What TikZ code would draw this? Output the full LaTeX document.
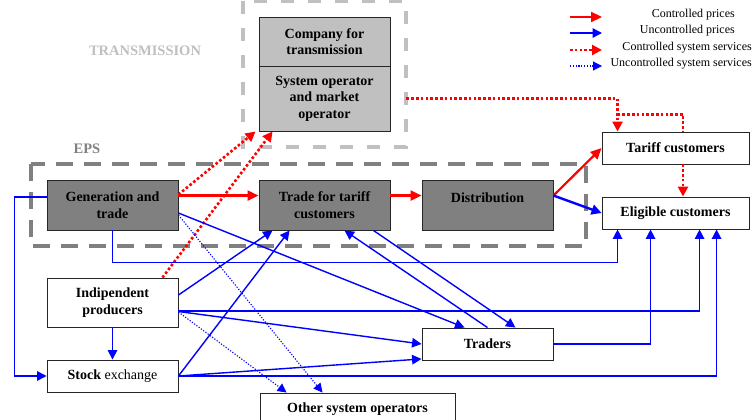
\documentclass[tikz,border=0pt]{standalone}
\usepackage{fontspec}
\setmainfont{Liberation Serif}
\usetikzlibrary{calc,arrows.meta}
\definecolor{lgray}{HTML}{C0C0C0}
\definecolor{dgray}{HTML}{808080}
\definecolor{rred}{HTML}{FF0000}
\definecolor{bblue}{HTML}{0000FF}
\begin{document}
\begin{tikzpicture}[x=1pt,y=-1pt,
  box/.style={draw=black!85, line width=0.9pt, fill=white, align=center, inner sep=0pt,
    minimum width=131pt, font=\fontsize{14}{16.5}\selectfont\bfseries},
  darkbox/.style={box, fill=dgray},
  lightbox/.style={box, fill=lgray},
  frameT/.style={draw=lgray, line width=3.5pt, dash pattern=on 13pt off 14pt},
  frameE/.style={draw=dgray, line width=3.5pt, dash pattern=on 17pt off 11pt},
  redarr/.style={draw=rred, line width=2.2pt, -{Triangle[length=11pt,width=10pt]}},
  bluearr/.style={draw=bblue, line width=1.4pt, -{Triangle[length=9.5pt,width=9.5pt]}},
  bluethick/.style={draw=bblue, line width=2.4pt, -{Triangle[length=10pt,width=10pt]}},
  reddot/.style={draw=rred, line width=2.6pt, dash pattern=on 2.6pt off 2.2pt, -{Triangle[length=10pt,width=10pt]}},
  reddotplain/.style={draw=rred, line width=2.6pt, dash pattern=on 2.6pt off 2.2pt},
  bluedot/.style={draw=bblue, line width=1.1pt, dash pattern=on 1.2pt off 1.6pt, -{Triangle[length=9pt,width=9pt]}},
  legtext/.style={font=\fontsize{12}{14}\selectfont, inner sep=0pt},
  grouplabel/.style={font=\fontsize{14.5}{16}\selectfont\bfseries, inner sep=0pt}
]
\clip (0,0) rectangle (752,420);
\fill[white] (0,0) rectangle (752,420);

% group frames
\draw[frameT] (243,1) rectangle (406,147);
\draw[frameE] (31,164) rectangle (586,246);
\node[grouplabel, text=lgray] (lblT) at (145,51) {TRANSMISSION};
\node[grouplabel, text=dgray] (lblE) at (87,149) {EPS};

% nodes
\node[lightbox, minimum height=49pt] (company) at (324.5,41.5) {Company for\\transmission};
\node[lightbox, minimum height=65pt] (so) at (324.5,98.5) {System operator\\and market\\operator};
\node[darkbox, minimum height=50pt] (gen) at (112.5,205) {Generation and\\trade};
\node[darkbox, minimum height=50pt] (tft) at (324.5,205) {Trade for tariff\\customers};
\node[darkbox, text height=22pt, text depth=28pt] (dist) at (487.5,205) {Distribution};
\node[box, minimum width=147pt, minimum height=32pt] (tariff) at (675.5,148) {Tariff customers};
\node[box, minimum width=147pt, minimum height=32pt] (elig) at (675.5,213) {Eligible customers};
\node[box, minimum height=49pt] (indep) at (112.5,302.5) {Indipendent\\producers};
\node[box, minimum height=32pt] (stock) at (112.5,376) {Stock \textmd{exchange}};
\node[box, minimum height=32pt] (traders) at (487.5,344) {Traders};
\node[box, minimum width=195pt, minimum height=32pt] (other) at (357.5,409) {Other system operators};

% controlled prices
\draw[redarr] ($(gen.north east)+(0,16)$) -- ($(tft.north west)+(0,16)$);
\draw[redarr] ($(tft.north east)+(0,16)$) -- ($(dist.north west)+(0,16)$);
\draw[redarr] ($(dist.north east)+(0,16)$) -- (tariff.west);
\draw[bluethick] ($(dist.north east)+(0,16)$) -- (elig.west);

% controlled system services
\draw[reddot] ($(so.east)+(16,0)$) -| ($(tariff.north west)+(16,0)$);
\draw[reddotplain] ($(tariff.north west)+(16,-17)$) -| ($(tariff.north)+(7.5,0)$);
\draw[reddot] ($(tariff.south)+(7.5,0)$) -- ($(elig.north)+(7.5,0)$);
\draw[reddot] ($(gen.north east)+(0,15)$) -- ($(so.south west)+(-3,0)$);
\draw[reddot] ($(indep.north east)+(-16,0)$) -- ($(so.south west)+(14,0)$);

% uncontrolled prices
\draw[bluearr] ($(gen.east)+(0,8)$) -- ($(traders.north west)+(43,0)$);
\draw[bluearr] ($(tft.south east)+(-17,0)$) -- ($(traders.north east)+(-38,0)$);
\draw[bluearr] (traders.north) -- ($(tft.south)+(20,0)$);
\draw[bluearr] ($(indep.east)+(0,8.5)$) -| ($(elig.south west)+(98,0)$);
\draw[bluearr] ($(indep.east)+(0,9)$) -- (traders.west);
\draw[bluearr] (stock.east) -- ($(traders.south west)+(0,-1.5)$);
\draw[bluearr] (stock.east) -| ($(elig.south west)+(115,0)$);
\draw[bluearr] (traders.east) -| ($(elig.south west)+(49,0)$);
\draw[bluearr] (gen.south) -- ++(0,32) -| ($(elig.south west)+(16,0)$);
\draw[bluearr] ($(gen.west)+(0,-8)$) -- ++(-32,0) |- (stock.west);
\draw[bluearr] (indep.south) -- (stock.north);
\draw[bluearr] ($(indep.east)+(0,-7.5)$) -- ($(tft.south west)+(14,0)$);
\draw[bluearr] (stock.east) -- ($(tft.south west)+(31,0)$);

% uncontrolled system services
\draw[bluedot] ($(gen.east)+(0,10)$) -- ($(other.north west)+(63,0)$);
\draw[bluedot] ($(indep.east)+(0,9.5)$) -- ($(other.north west)+(27,0)$);

% legend
\coordinate (l1a) at (570,17); \coordinate (l1b) at (602,17);
\coordinate (l2a) at (570,33); \coordinate (l2b) at (602,33);
\coordinate (l3a) at (570,50); \coordinate (l3b) at (602,50);
\coordinate (l4a) at (570,66); \coordinate (l4b) at (602,66);
\draw[redarr] (l1a) -- (l1b);
\draw[bluearr] (l2a) -- (l2b);
\draw[reddot] (l3a) -- (l3b);
\draw[bluedot] (l4a) -- (l4b);
\node[legtext, anchor=east] (t1) at (735,15) {Controlled prices};
\node[legtext, anchor=east] (t2) at (735,31) {Uncontrolled prices};
\node[legtext, anchor=east] (t3) at (752,48) {Controlled system services};
\node[legtext, anchor=east] (t4) at (752,64) {Uncontrolled system services};
\end{tikzpicture}
\end{document}
